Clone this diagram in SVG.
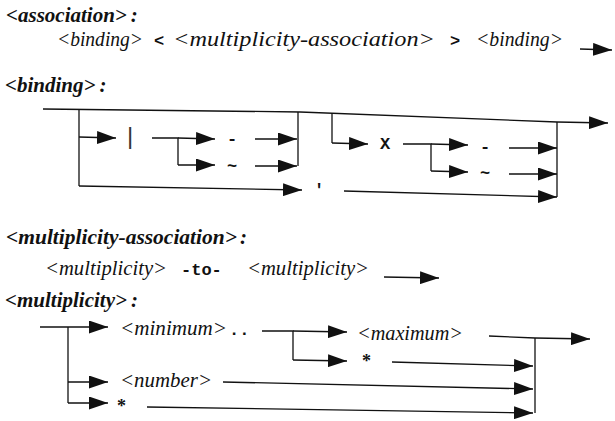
<svg xmlns="http://www.w3.org/2000/svg" width="615" height="421" viewBox="0 0 615 421">
  <style>
    .hdr { font-family: "Liberation Serif", "Times New Roman", serif; font-weight: bold; font-style: italic; font-size: 21px; fill: #111; }
    .nt { font-family: "Liberation Serif", "Times New Roman", serif; font-style: italic; font-size: 21px; fill: #111; }
    .tm { font-family: "Liberation Mono", "Courier New", monospace; font-weight: bold; font-size: 17px; fill: #111; }
    .sym { font-family: "Liberation Serif", "Times New Roman", serif; font-weight: bold; font-size: 18px; fill: #111; }
    .ln { fill: none; stroke: #111; stroke-width: 1.3; }
    .ar { fill: none; stroke: #111; stroke-width: 1.3; marker-end: url(#ah); }
  </style>
  <defs>
    <marker id="ah" markerUnits="userSpaceOnUse" markerWidth="19" markerHeight="13" refX="19" refY="6.5" orient="auto" viewBox="0 0 19 13">
      <path d="M0,0 L19,6.5 L0,13 z" fill="#111"/>
    </marker>
  </defs>
  <rect width="615" height="421" fill="#fff"/>

  <!-- association rule -->
  <g id="assoc-header"><text class="hdr" x="6" y="22">&lt;association&gt;<tspan dx="4">:</tspan></text></g>
  <g id="assoc-binding1"><text class="nt" x="57" y="46" textLength="86" lengthAdjust="spacingAndGlyphs">&lt;binding&gt;</text></g>
  <g id="assoc-lt"><text class="tm" x="154" y="46">&lt;</text></g>
  <g id="assoc-mult"><text class="nt" x="173" y="46" textLength="262" lengthAdjust="spacingAndGlyphs">&lt;multiplicity-association&gt;</text></g>
  <g id="assoc-gt"><text class="tm" x="450" y="46">&gt;</text></g>
  <g id="assoc-binding2"><text class="nt" x="476" y="46" textLength="87" lengthAdjust="spacingAndGlyphs">&lt;binding&gt;</text></g>

  <!-- binding rule -->
  <g id="binding-header"><text class="hdr" x="5" y="92">&lt;binding&gt;<tspan dx="4">:</tspan></text></g>
  <g id="binding-bar"><text x="127" y="144" font-family="Liberation Sans, Arial, sans-serif" font-size="24" fill="#333">|</text></g>
  <g id="binding-colon1"><text class="tm" x="227" y="144">-</text></g>
  <g id="binding-tilde1"><text class="tm" x="227" y="171">~</text></g>
  <g id="binding-quote"><text class="tm" x="314" y="195">'</text></g>
  <g id="binding-x"><text class="tm" x="380" y="149">X</text></g>
  <g id="binding-colon2"><text class="tm" x="480" y="152">-</text></g>
  <g id="binding-tilde2"><text class="tm" x="480" y="178">~</text></g>

  <!-- multiplicity-association rule -->
  <g id="ma-header"><text class="hdr" x="6" y="244" textLength="231" lengthAdjust="spacingAndGlyphs">&lt;multiplicity-association&gt;</text><text class="hdr" x="240" y="244">:</text></g>
  <g id="ma-mult1"><text class="nt" x="45" y="275" textLength="122" lengthAdjust="spacingAndGlyphs">&lt;multiplicity&gt;</text></g>
  <g id="ma-to"><text class="tm" x="181" y="275" font-size="19" font-weight="normal">-to-</text></g>
  <g id="ma-mult2"><text class="nt" x="247" y="275" textLength="122" lengthAdjust="spacingAndGlyphs">&lt;multiplicity&gt;</text></g>

  <!-- multiplicity rule -->
  <g id="mult-header"><text class="hdr" x="5" y="307">&lt;multiplicity&gt;<tspan dx="4">:</tspan></text></g>
  <g id="mult-minimum"><text class="nt" x="120" y="335" textLength="107" lengthAdjust="spacingAndGlyphs">&lt;minimum&gt;</text><text class="tm" x="229" y="335" font-weight="normal">..</text></g>
  <g id="mult-maximum"><text class="nt" x="357" y="340" textLength="106" lengthAdjust="spacingAndGlyphs">&lt;maximum&gt;</text></g>
  <g id="mult-star1"><text class="sym" x="362" y="367">*</text></g>
  <g id="mult-number"><text class="nt" x="120" y="387" textLength="92" lengthAdjust="spacingAndGlyphs">&lt;number&gt;</text></g>
  <g id="mult-star2"><text class="sym" x="117" y="412">*</text></g>

  <g id="connectors">
    <!-- association -->
    <path class="ar" d="M580,49 L612,50"/>

    <!-- binding: main line and outer loop -->
    <path class="ln" d="M43,109 L300,112 L557,122"/>
    <path class="ar" d="M557,122 L608,123"/>
    <path class="ln" d="M79,110 L79,186"/>
    <path class="ar" d="M79,186 L302,190"/>
    <path class="ar" d="M79,137 L116,138"/>
    <path class="ln" d="M152,138 L178,138 L178,165"/>
    <path class="ar" d="M178,138 L215,139"/>
    <path class="ar" d="M178,165 L215,165"/>
    <path class="ar" d="M255,139 L297,139"/>
    <path class="ar" d="M255,166 L297,166"/>
    <path class="ln" d="M298,112 L298,166"/>
    <path class="ln" d="M332,113 L332,143"/>
    <path class="ar" d="M332,143 L368,144"/>
    <path class="ln" d="M403,144 L431,144 L431,171"/>
    <path class="ar" d="M431,144 L468,145"/>
    <path class="ar" d="M431,171 L468,172"/>
    <path class="ar" d="M509,148 L557,148"/>
    <path class="ar" d="M509,174 L557,174"/>
    <path class="ar" d="M344,191 L557,197"/>
    <path class="ln" d="M557,122 L557,197"/>

    <!-- multiplicity-association -->
    <path class="ar" d="M384,277 L439,278"/>

    <!-- multiplicity -->
    <path class="ar" d="M40,327 L108,327"/>
    <path class="ln" d="M68,327 L68,403"/>
    <path class="ar" d="M68,382 L108,382"/>
    <path class="ar" d="M68,403 L108,403"/>
    <path class="ln" d="M262,331 L293,331 L293,360"/>
    <path class="ar" d="M293,331 L347,332"/>
    <path class="ar" d="M293,360 L347,361"/>
    <path class="ln" d="M489,336 L535,338"/>
    <path class="ar" d="M535,338 L590,339"/>
    <path class="ln" d="M535,338 L535,413"/>
    <path class="ar" d="M392,362 L533,366"/>
    <path class="ar" d="M223,382 L533,389"/>
    <path class="ar" d="M147,407 L533,413"/>
  </g>
</svg>
